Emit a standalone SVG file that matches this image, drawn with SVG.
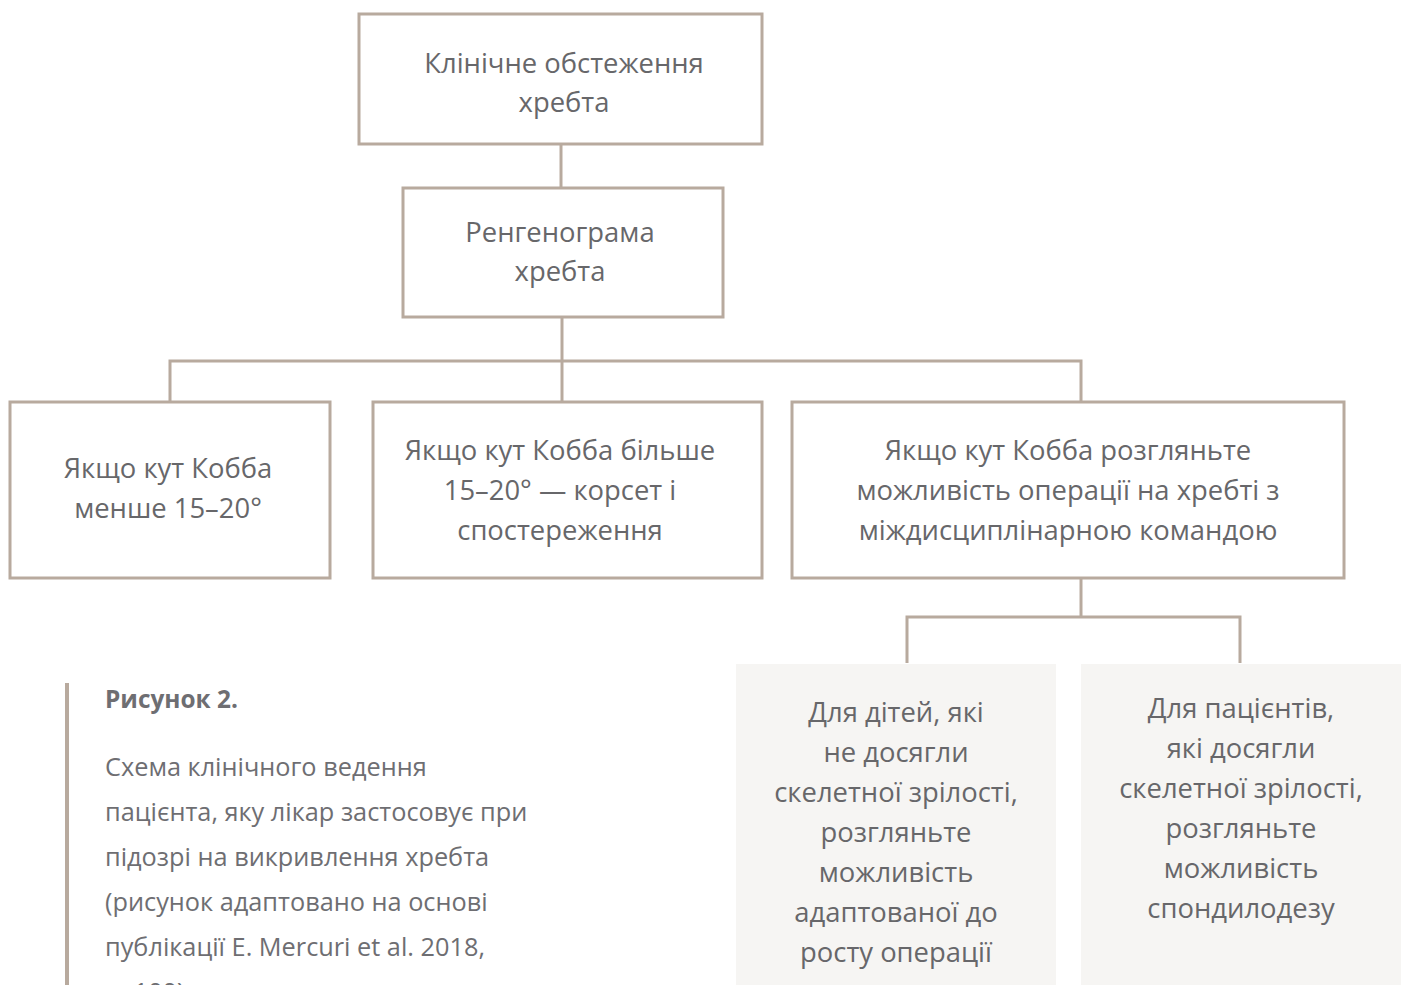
<svg xmlns="http://www.w3.org/2000/svg" width="1404" height="985" viewBox="0 0 1404 985">
<style>
.box{fill:#ffffff;stroke:#b8aa9e;stroke-width:3}
.gbox{fill:#f6f5f3;stroke:none}
.con{fill:none;stroke:#b8aa9e;stroke-width:3}
.t{font-family:"Open Sans","Noto Sans","DejaVu Sans",sans-serif;font-size:27.4px;fill:#67676a;text-anchor:middle}
.cap{font-family:"Open Sans","Noto Sans","DejaVu Sans",sans-serif;font-size:25.3px;fill:#6e6e72}
.capb{font-weight:bold;font-size:24.4px}
</style>
<rect width="1404" height="985" fill="#ffffff"/>
<g id="connectors">
<path class="con" d="M561 144 V188"/>
<path class="con" d="M562 317 V402"/>
<path class="con" d="M170 402 V361 H1081 V402"/>
<path class="con" d="M1081 578 V617"/>
<path class="con" d="M907 663 V617 H1240 V663"/>
</g>
<g id="n1">
<rect class="box" x="359" y="14" width="403" height="130"/>
<text class="t" x="564" y="73">Клінічне обстеження</text>
<text class="t" x="564" y="112">хребта</text>
</g>
<g id="n2">
<rect class="box" x="403" y="188" width="320" height="129"/>
<text class="t" x="560" y="242">Ренгенограма</text>
<text class="t" x="560" y="281">хребта</text>
</g>
<g id="n3">
<rect class="box" x="10" y="402" width="320" height="176"/>
<text class="t" x="168" y="478">Якщо кут Кобба</text>
<text class="t" x="168" y="518">менше 15–20°</text>
</g>
<g id="n4">
<rect class="box" x="373" y="402" width="389" height="176"/>
<text class="t" x="560" y="460">Якщо кут Кобба більше</text>
<text class="t" x="560" y="500">15–20° — корсет і</text>
<text class="t" x="560" y="540">спостереження</text>
</g>
<g id="n5">
<rect class="box" x="792" y="402" width="552" height="176"/>
<text class="t" x="1068" y="460">Якщо кут Кобба розгляньте</text>
<text class="t" x="1068" y="500">можливість операції на хребті з</text>
<text class="t" x="1068" y="540">міждисциплінарною командою</text>
</g>
<g id="n6">
<rect class="gbox" x="736" y="664" width="320" height="330"/>
<text class="t" x="896" y="722">Для дітей, які</text>
<text class="t" x="896" y="762">не досягли</text>
<text class="t" x="896" y="802">скелетної зрілості,</text>
<text class="t" x="896" y="842">розгляньте</text>
<text class="t" x="896" y="882">можливість</text>
<text class="t" x="896" y="922">адаптованої до</text>
<text class="t" x="896" y="962">росту операції</text>
</g>
<g id="n7">
<rect class="gbox" x="1081" y="664" width="320" height="330"/>
<text class="t" x="1241" y="718">Для пацієнтів,</text>
<text class="t" x="1241" y="758">які досягли</text>
<text class="t" x="1241" y="798">скелетної зрілості,</text>
<text class="t" x="1241" y="838">розгляньте</text>
<text class="t" x="1241" y="878">можливість</text>
<text class="t" x="1241" y="918">спондилодезу</text>
</g>
<g id="caption">
<rect x="65" y="683" width="4" height="310" fill="#b8aa9e"/>
<text class="cap capb" x="105" y="708">Рисунок 2.</text>
<text class="cap" x="105" y="776">Схема клінічного ведення</text>
<text class="cap" x="105" y="821">пацієнта, яку лікар застосовує при</text>
<text class="cap" x="105" y="866">підозрі на викривлення хребта</text>
<text class="cap" x="105" y="911">(рисунок адаптовано на основі</text>
<text class="cap" x="105" y="956">публікації E. Mercuri et al. 2018,</text>
<text class="cap" x="105" y="1001">р. 100)</text>
</g>
</svg>
